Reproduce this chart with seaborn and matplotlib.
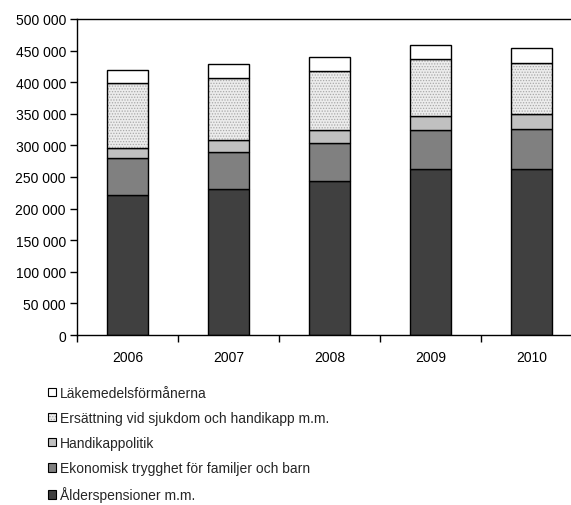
import numpy as np
import matplotlib
matplotlib.use('Agg')
import matplotlib.pyplot as plt
import seaborn as sns
from matplotlib.patches import Patch
from matplotlib.colors import to_rgba
from matplotlib.ticker import FuncFormatter, MultipleLocator

# Data (miljoner kronor)
years = ['2006', '2007', '2008', '2009', '2010']
alderspension = [222000, 230500, 243000, 262000, 263000]
ekonomisk = [58500, 59000, 60300, 62000, 63000]
handikappolitik = [16000, 19000, 20500, 22000, 23000]
ersattning = [102000, 98500, 94000, 90000, 82000]
lakemedel = [21000, 21700, 21300, 23000, 23000]

labels = ['Ålderspensioner m.m.',
          'Ekonomisk trygghet för familjer och barn',
          'Handikappolitik',
          'Ersättning vid sjukdom och handikapp m.m.',
          'Läkemedelsförmånerna']
colors = ['#404040', '#808080', '#c0c0c0', '#ececec', '#ffffff']

sns.set_theme(style='white')
plt.rcParams['font.family'] = ['Liberation Sans', 'DejaVu Sans']
plt.rcParams['hatch.linewidth'] = 0.6

fig = plt.figure(figsize=(5.71, 5.06), dpi=100)
ax = fig.add_axes([77 / 571, 170 / 506, 494 / 571, 316 / 506])

series = [alderspension, ekonomisk, handikappolitik, ersattning, lakemedel]
bottom = np.zeros(len(years))
for vals, col, lab in zip(series, colors, labels):
    n0 = len(ax.patches)
    sns.barplot(x=years, y=vals, bottom=bottom, color=col, saturation=1,
                edgecolor='black', linewidth=1, width=0.4, errorbar=None, ax=ax)
    if lab.startswith('Ersättning'):
        for p in ax.patches[n0:]:
            p.set_hatch('......')
            p._hatch_color = to_rgba('#a8a8a8')
    bottom += np.array(vals)

# axlar
ax.set_ylim(0, 500000)
ax.set_xlim(-0.5, -0.5 + 494 / 101)
ax.yaxis.set_major_locator(MultipleLocator(50000))
ax.yaxis.set_major_formatter(FuncFormatter(lambda v, p: f'{int(v):,}'.replace(',', ' ')))
ax.set_xticks(np.arange(-0.5, 4, 1), minor=True)
ax.tick_params(axis='x', which='major', length=0, pad=11, labelsize=10, colors='black')
ax.tick_params(axis='x', which='minor', bottom=True, length=5, width=1, color='black')
ax.tick_params(axis='y', left=True, length=5, width=1, pad=3, labelsize=10, colors='black')
for s in ['left', 'bottom', 'top']:
    ax.spines[s].set_color('black')
    ax.spines[s].set_linewidth(1)
ax.spines['right'].set_visible(False)
ax.set_xlabel('')
ax.set_ylabel('')

# legend
handles = []
for col, lab in zip(colors, labels):
    h = Patch(facecolor=col, edgecolor='black', linewidth=0.8, label=lab)
    if lab.startswith('Ersättning'):
        h.set_hatch('......')
        h._hatch_color = to_rgba('#a8a8a8')
    handles.append(h)
fig.legend(handles[::-1], labels[::-1], loc='upper left',
           bbox_to_anchor=(41 / 571, 1 - 380 / 506), frameon=False,
           handlelength=0.55, handleheight=0.55, handletextpad=0.3,
           labelspacing=0.8, borderpad=0, fontsize=10)

fig.savefig('out.png', dpi=100)
